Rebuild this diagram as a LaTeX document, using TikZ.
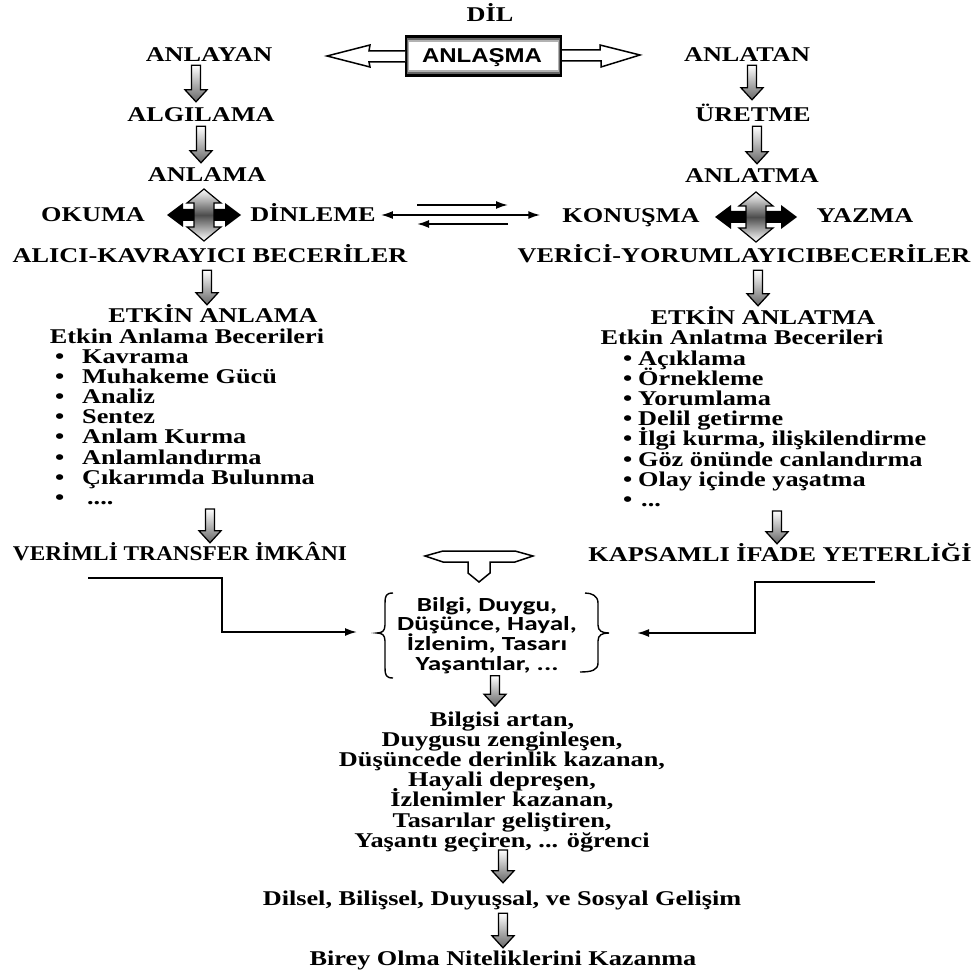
\documentclass[tikz,border=0pt]{standalone}
\usepackage{fontspec}
\setmainfont{Liberation Serif}[FakeStretch=1.25]
\newfontfamily\narrowser{Liberation Serif}[FakeStretch=1.11]
\newfontfamily\anlfont{Liberation Sans}[FakeStretch=1.2]
\newfontfamily\carfont{Carlito}[FakeStretch=1.36]
\usetikzlibrary{arrows.meta,calc}

\newcommand\serf{\fontsize{21}{20.2}\selectfont\bfseries}
\newcommand\clines[1]{\vtop{\lineskiplimit=-\maxdimen\lineskip=0pt\halign{\hfil##\hfil\cr#1\crcr}}}
\newcommand\llines[1]{\vtop{\lineskiplimit=-\maxdimen\lineskip=0pt\halign{##\hfil\cr#1\crcr}}}
\newcommand\lb{\makebox[27pt][l]{•}}
\newcommand\rb{\makebox[15pt][l]{•}}

% block arrow: from node, to node, x (px), top gap, bottom gap
\newcommand\barr[5]{%
  \path[blk] let \p1=(#1.south), \p2=(#2.north) in
   (#3pt-4.5pt,\y1-#4pt) -- (#3pt+4.5pt,\y1-#4pt) -- (#3pt+4.5pt,\y2+#5pt+12pt)
   -- (#3pt+11pt,\y2+#5pt+12pt) -- (#3pt,\y2+#5pt) -- (#3pt-11pt,\y2+#5pt+12pt)
   -- (#3pt-4.5pt,\y2+#5pt+12pt) -- cycle;}

% four-way arrow: cx, cy, half width, half height
\newcommand\crossarr[4]{%
  \fill[black] (#1-#3,#2) -- (#1-#3+16,#2-12) -- (#1-#3+16,#2-6) -- (#1+#3-16,#2-6)
    -- (#1+#3-16,#2-12) -- (#1+#3,#2) -- (#1+#3-16,#2+12) -- (#1+#3-16,#2+6)
    -- (#1-#3+16,#2+6) -- (#1-#3+16,#2+12) -- cycle;
  \path[draw=black, line width=1.2pt, top color=white, bottom color=white, middle color=black!70]
    (#1,#2-#4) -- (#1+17,#2-#4+14) -- (#1+10,#2-#4+14) -- (#1+10,#2+#4-14)
    -- (#1+17,#2+#4-14) -- (#1,#2+#4) -- (#1-17,#2+#4-14) -- (#1-10,#2+#4-14)
    -- (#1-10,#2-#4+14) -- (#1-17,#2-#4+14) -- cycle;
  \fill[black] (#1-#3+16,#2-6) rectangle (#1-10,#2+6);
  \fill[black] (#1+10,#2-6) rectangle (#1+#3-16,#2+6);}

\tikzset{
  lbl/.style={font=\serf, inner sep=0pt, anchor=base, text height=14pt, text depth=0pt},
  multi/.style={font=\serf, inner sep=0pt, anchor=base},
  carl/.style={font=\carfont\fontsize{20}{19.7}\selectfont\bfseries, inner sep=0pt, anchor=base},
  blk/.style={draw=black, line width=1.3pt, top color=white, bottom color=black!60},
  thinarr/.style={line width=1.8pt, -{Latex[length=12pt,width=8pt]}},
  outl/.style={draw=black, line width=1.5pt, fill=white, line join=miter},
  bracestyle/.style={draw=black, line width=1.4pt}
}

\begin{document}
\begin{tikzpicture}[x=1pt,y=-1pt]
\fill[white] (0,0) rectangle (979,973);
\useasboundingbox (0,0) rectangle (979,973);

% ---- top ----
\node[lbl] (dil) at (490,22) {DİL};
\node[inner sep=0pt, minimum width=157pt, minimum height=42pt] (anlbox) at (483.5,56) {};
\fill[black] (anlbox.south west) rectangle (anlbox.north east);
\fill[black!60] ($(anlbox.south west)+(2,-3)$) rectangle ($(anlbox.north east)+(-2,3)$);
\fill[black!30] ($(anlbox.south west)+(3,-5)$) rectangle ($(anlbox.north east)+(-3,5)$);
\fill[white] ($(anlbox.south west)+(4,-7)$) rectangle ($(anlbox.north east)+(-4,7)$);
\node[font=\anlfont\fontsize{20}{20}\selectfont\bfseries, inner sep=0pt, anchor=base] (anlasma) at (482,63) {ANLAŞMA};

\draw[outl] (405,51) -- (369,51) -- (370,45) -- (327,56) -- (370,67) -- (369,62) -- (405,62);
\draw[outl] (562,50) -- (600,50) -- (600,45) -- (640,55) -- (601,67) -- (601,61) -- (562,61);

\node[lbl] (anlayan) at (209,62) {ANLAYAN};
\node[lbl] (anlatan) at (747,62) {ANLATAN};
\node[lbl] (algilama) at (201,122) {ALGILAMA};
\node[lbl] (uretme) at (753,122) {ÜRETME};
\node[lbl] (anlama) at (207,182) {ANLAMA};
\node[lbl] (anlatma) at (752,183) {ANLATMA};
\node[lbl] (okuma) at (93,222) {OKUMA};
\node[lbl] (dinleme) at (313,222) {DİNLEME};
\node[lbl] (konusma) at (631,223) {KONUŞMA};
\node[lbl] (yazma) at (865,223) {YAZMA};
\node[lbl] (alici) at (210,263) {ALICI-KAVRAYICI BECERİLER};
\node[lbl] (verici) at (744,263) {VERİCİ-YORUMLAYICIBECERİLER};

\barr{anlayan}{algilama}{196}{3}{6}
\barr{anlatan}{uretme}{752}{3}{8}
\barr{algilama}{anlama}{201}{4}{5}
\barr{uretme}{anlatma}{757}{4}{5}

\crossarr{204}{215}{37}{26}
\crossarr{756}{217}{41}{25}

% middle arrows
\coordinate (ta1) at (417,205); \coordinate (ta2) at (508,205);
\coordinate (ba1) at (508,224); \coordinate (ba2) at (417,224);
\draw[thinarr] (ta1) -- (ta2);
\draw[thinarr] (ba1) -- (ba2);
\draw[thinarr, {Latex[length=12pt,width=8pt]}-{Latex[length=12pt,width=8pt]}, shorten <=5pt, shorten >=22pt]
  (dinleme.east) -- (dinleme.east -| konusma.west);

% ---- lists ----
\node[lbl] (etkinanlama) at (213,323) {ETKİN ANLAMA};
\node[lbl] (etkinanlatma) at (763,324) {ETKİN ANLATMA};
\barr{alici}{etkinanlama}{207}{7}{4}
\barr{verici}{etkinanlatma}{758}{7}{4}

\node[lbl] (lbec) at (187,343) {Etkin Anlama Becerileri};
\node[lbl] (rbec) at (742,344) {Etkin Anlatma Becerileri};

\node[multi, anchor=base west] (llist) at (55,363) {\llines{%
\lb Kavrama\cr
\lb Muhakeme Gücü\cr
\lb Analiz\cr
\lb Sentez\cr
\lb Anlam Kurma\cr
\lb Anlamlandırma\cr
\lb Çıkarımda Bulunma\cr
\lb\hspace{5pt}....}};

\node[multi, anchor=base west] (rlist) at (623,365) {\llines{%
\rb Açıklama\cr
\rb Örnekleme\cr
\rb Yorumlama\cr
\rb Delil getirme\cr
\rb İlgi kurma, ilişkilendirme\cr
\rb Göz önünde canlandırma\cr
\rb Olay içinde yaşatma\cr
\rb\hspace{3pt}...}};

\node[lbl, font=\narrowser\serf] (verimli) at (180,560) {VERİMLİ TRANSFER İMKÂNI};
\node[lbl] (kapsamli) at (780,561) {KAPSAMLI İFADE YETERLİĞİ};
\barr{llist}{verimli}{210}{4}{3}
\barr{rlist}{kapsamli}{777}{4}{3}

% T-shaped arrow
\draw[outl] (425,556) -- (443,551) -- (515,551) -- (533,556) -- (515,562) -- (490,562)
  -- (490,573) -- (479,582) -- (468,573) -- (468,562) -- (443,562) -- cycle;

% brace group
\node[carl] (bilgi) at (487,611) {\clines{Bilgi, Duygu,\cr Düşünce, Hayal,\cr İzlenim, Tasarı\cr Yaşantılar, ...}};
\draw[bracestyle] (393,593) .. controls (386,593) and (385,596) .. (385,603) -- (385,625)
  .. controls (385,631) and (382,633) .. (377,633) .. controls (382,633) and (385,635) .. (385,641)
  -- (385,668) .. controls (385,675) and (386,678) .. (393,678);
\draw[bracestyle] (585,593) .. controls (592,593) and (598,596) .. (598,603) -- (598,625)
  .. controls (598,631) and (602,633) .. (609,633) .. controls (602,633) and (598,635) .. (598,641)
  -- (598,663) .. controls (598,670) and (592,672) .. (580,672);

% elbow connectors
\coordinate (vstart) at (88,578); \coordinate (bl) at (357,632);
\coordinate (kstart) at (875,582); \coordinate (br) at (637,633);
\draw[thinarr] (vstart) -- (222,578) |- (bl);
\draw[thinarr] (kstart) -- (755,582) |- (br);

% ---- bottom ----
\node[multi] (bilgisi) at (502,726) {\clines{%
Bilgisi artan,\cr
Duygusu zenginleşen,\cr
Düşüncede derinlik kazanan,\cr
Hayali depreşen,\cr
İzlenimler kazanan,\cr
Tasarılar geliştiren,\cr
Yaşantı geçiren, ... öğrenci}};
\node[lbl] (dilsel) at (502,905) {Dilsel, Bilişsel, Duyuşsal, ve Sosyal Gelişim};
\node[lbl] (birey) at (503,965) {Birey Olma Niteliklerini Kazanma};

\barr{bilgi}{bilgisi}{495}{2}{5}
\barr{bilgisi}{dilsel}{503}{-2}{8}
\barr{dilsel}{birey}{503}{8}{3}
\end{tikzpicture}
\end{document}
